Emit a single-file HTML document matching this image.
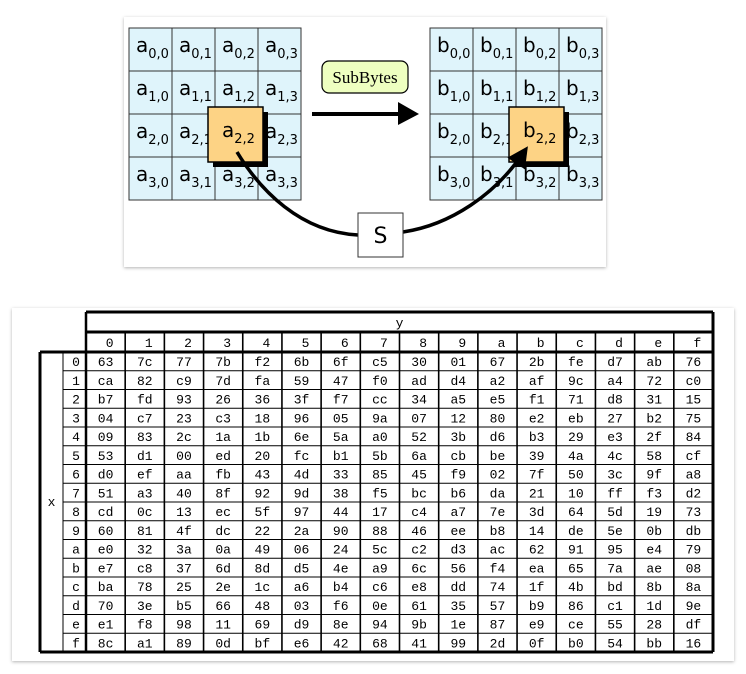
<!DOCTYPE html>
<html><head><meta charset="utf-8"><style>
body{margin:0;background:#fff;width:746px;height:674px;overflow:hidden}
svg{display:block}
</style></head><body>
<svg id="s" width="746" height="674" xmlns="http://www.w3.org/2000/svg">
<defs>
<filter id="sh" x="-5%" y="-5%" width="110%" height="110%"><feDropShadow dx="0" dy="1" stdDeviation="1.5" flood-color="#000" flood-opacity="0.3"/></filter>
<marker id="ah" markerWidth="6" markerHeight="6" refX="4" refY="3" orient="auto"><path d="M0,0 L6,3 L0,6 z" fill="#000"/></marker>
</defs>
<rect x="124" y="17" width="482" height="250" fill="#fff" filter="url(#sh)"/>
<rect x="12" y="308" width="722" height="353" fill="#fff" filter="url(#sh)"/>
<g id="topg"></g>
<g id="tbl"></g>
</svg>
<script>
const sbox=["63","7c","77","7b","f2","6b","6f","c5","30","01","67","2b","fe","d7","ab","76",
"ca","82","c9","7d","fa","59","47","f0","ad","d4","a2","af","9c","a4","72","c0",
"b7","fd","93","26","36","3f","f7","cc","34","a5","e5","f1","71","d8","31","15",
"04","c7","23","c3","18","96","05","9a","07","12","80","e2","eb","27","b2","75",
"09","83","2c","1a","1b","6e","5a","a0","52","3b","d6","b3","29","e3","2f","84",
"53","d1","00","ed","20","fc","b1","5b","6a","cb","be","39","4a","4c","58","cf",
"d0","ef","aa","fb","43","4d","33","85","45","f9","02","7f","50","3c","9f","a8",
"51","a3","40","8f","92","9d","38","f5","bc","b6","da","21","10","ff","f3","d2",
"cd","0c","13","ec","5f","97","44","17","c4","a7","7e","3d","64","5d","19","73",
"60","81","4f","dc","22","2a","90","88","46","ee","b8","14","de","5e","0b","db",
"e0","32","3a","0a","49","06","24","5c","c2","d3","ac","62","91","95","e4","79",
"e7","c8","37","6d","8d","d5","4e","a9","6c","56","f4","ea","65","7a","ae","08",
"ba","78","25","2e","1c","a6","b4","c6","e8","dd","74","1f","4b","bd","8b","8a",
"70","3e","b5","66","48","03","f6","0e","61","35","57","b9","86","c1","1d","9e",
"e1","f8","98","11","69","d9","8e","94","9b","1e","87","e9","ce","55","28","df",
"8c","a1","89","0d","bf","e6","42","68","41","99","2d","0f","b0","54","bb","16"];
const hexLabels=["0","1","2","3","4","5","6","7","8","9","a","b","c","d","e","f"];
const NS="http://www.w3.org/2000/svg";
function mk(tag,attrs,parent,txt){const e=document.createElementNS(NS,tag);for(const k in attrs)e.setAttribute(k,attrs[k]);if(txt!==undefined)e.textContent=txt;parent.appendChild(e);return e;}
const topG=document.getElementById('topg');
function grid(x0,y0,letter,name){
 const cw=43,ch=43;
 for(let r=0;r<4;r++)for(let c=0;c<4;c++){
  const g=mk('g',{},topG);
  
  
  mk('rect',{x:x0+c*cw,y:y0+r*ch,width:cw,height:ch,fill:'#dff4fb',stroke:'#333','stroke-width':1},g);
  const t=mk('text',{x:x0+c*cw+7,y:y0+r*ch+24,'font-family':'DejaVu Sans, sans-serif','font-size':20,fill:'#000'},g);
  mk('tspan',{},t,letter);
  mk('tspan',{'font-size':13,dy:6},t,r+','+c);
 }
}
grid(129,28,'a','state-a');
grid(430,28,'b','state-b');
function hl(x,y,letter,name){
 const g=mk('g',{},topG);
 
 
 mk('rect',{x:x+5,y:y+5,width:55,height:55,fill:'#000'},g);
 mk('rect',{x:x,y:y,width:55,height:55,fill:'#fdd385',stroke:'#000','stroke-width':1.5},g);
 const t=mk('text',{x:x+14,y:y+30,'font-family':'DejaVu Sans, sans-serif','font-size':20},g);
 mk('tspan',{},t,letter);mk('tspan',{'font-size':13,dy:6},t,'2,2');
}
hl(208,107,'a','highlight-a22');
hl(509,107,'b','highlight-b22');
const c1=mk('path',{d:'M237,152 C260,190 300,232 358,235',fill:'none',stroke:'#000','stroke-width':3.5},topG);


const c2=mk('path',{d:'M403,232 C450,225 495,195 524,152',fill:'none',stroke:'#000','stroke-width':3.5,'marker-end':'url(#ah)'},topG);


const sb=mk('g',{},topG);


mk('rect',{x:358,y:213,width:45,height:44,fill:'#fff',stroke:'#333','stroke-width':1},sb);
mk('text',{x:380.5,y:243,'text-anchor':'middle','font-family':'DejaVu Sans, sans-serif','font-size':22},sb,'S');
const lab=mk('g',{},topG);


mk('rect',{x:322,y:61,width:86,height:32,rx:7,fill:'#eeffc0',stroke:'#000','stroke-width':1.2},lab);
mk('text',{x:365,y:83,'text-anchor':'middle','font-family':'Liberation Serif, serif','font-size':17},lab,'SubBytes');
const ar=mk('g',{},topG);


mk('line',{x1:312,y1:114,x2:400,y2:114,stroke:'#000','stroke-width':4},ar);
mk('path',{d:'M398,102 L419,114 L398,125 z',fill:'#000'},ar);

const T=document.getElementById('tbl');
const X0=86,X1=713,cw=(X1-X0)/16,Y0=352,rh=18.75,Y1=Y0+16*rh,IX=63,LX=40;
const font={'font-family':'Liberation Mono, monospace','font-size':13,'text-anchor':'middle'};
function txt(x,y,s,name){const e=mk('text',Object.assign({x:x,y:y},font),T,s);
 
 
 return e;}
const L=(a,b,c,d,w)=>mk('line',{x1:a,y1:b,x2:c,y2:d,stroke:'#000','stroke-width':w},T);
for(let i=1;i<16;i++){L(X0,Y0+i*rh,X1,Y0+i*rh,1);L(IX,Y0+i*rh,X0,Y0+i*rh,1);}
for(let j=1;j<16;j++)L(X0+j*cw,332,X0+j*cw,Y1,1.6);
L(IX,Y0,IX,Y1,1);
L(X0,312,X0,Y1,2.5);
L(X0,312,X1,312,3);L(X0,332,X1,332,3);L(X1,312,X1,Y1,3);
L(LX,Y0,X1,Y0,3);L(LX,Y0,LX,Y1,3);L(LX,Y1,X1,Y1,3);
txt((X0+X1)/2,327,'y','y-axis-title');
txt((LX+IX)/2,Y0+8*rh+4,'x','x-axis-title');
for(let j=0;j<16;j++)txt(X0+j*cw+cw/2+4,347,hexLabels[j],'col-header-'+hexLabels[j]);
for(let i=0;i<16;i++){
 txt(IX+13,Y0+i*rh+14,hexLabels[i],'row-header-'+hexLabels[i]);
 for(let j=0;j<16;j++)txt(X0+j*cw+cw/2,Y0+i*rh+14,sbox[i*16+j],'sbox-cell-'+hexLabels[i]+hexLabels[j]);
}
</script>
</body></html>
